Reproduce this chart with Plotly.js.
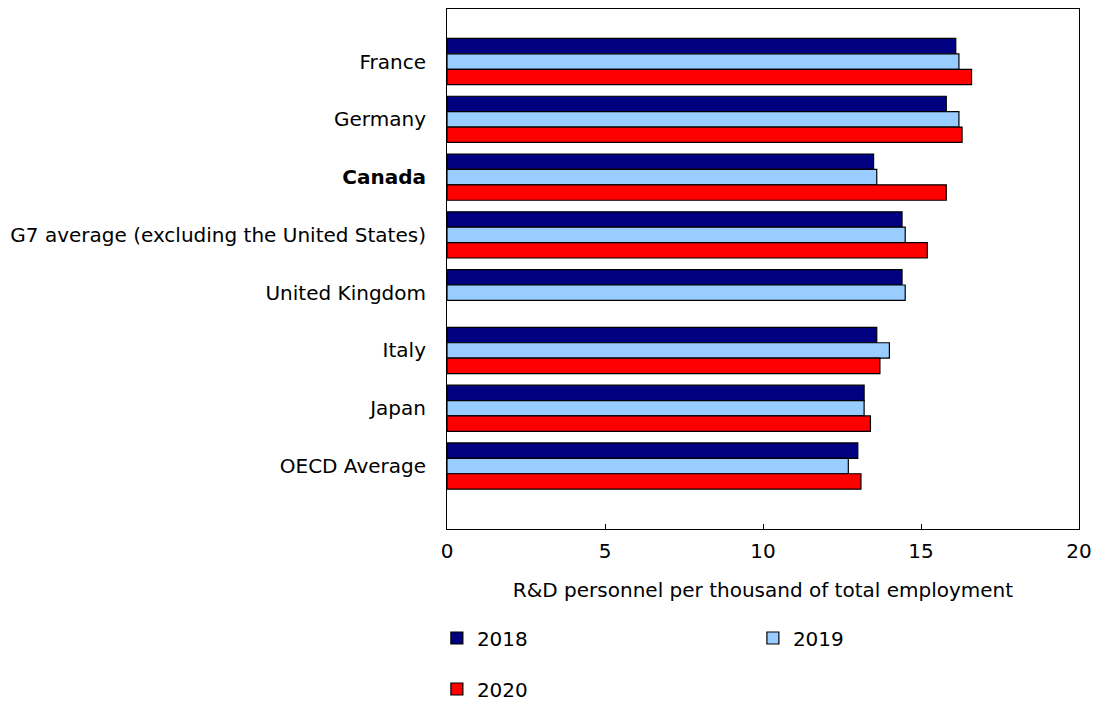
<!DOCTYPE html>
<html>
<head>
<meta charset="utf-8">
<script src="https://cdn.plot.ly/plotly-3.0.1.min.js"></script>
<style>html,body{margin:0;padding:0;background:#fff;}#chart{width:1093px;height:701px;}</style>
</head>
<body>
<div id="chart"></div>
<script>
const categories = ["France", "Germany", "<b>Canada</b>", "G7 average (excluding the United States)", "United Kingdom", "Italy", "Japan", "OECD Average"];
const values2018 = [16.1, 15.8, 13.5, 14.4, 14.4, 13.6, 13.2, 13.0];
const values2019 = [16.2, 16.2, 13.6, 14.5, 14.5, 14.0, 13.2, 12.7];
const values2020 = [16.6, 16.3, 15.8, 15.2, null, 13.7, 13.4, 13.1];
const seriesNames = ["2018", "2019", "2020"];
const xTicks = [0, 5, 10, 15, 20];

const colors = ["#000080", "#99ccff", "#ff0000"];
const legends = ["legend", "legend2", "legend3"];
const allValues = [values2018, values2019, values2020];

const data = allValues.map((v, i) => ({
  type: "bar",
  orientation: "h",
  name: seriesNames[i],
  y: categories,
  x: v,
  legend: legends[i],
  marker: {color: colors[i], line: {color: "#000000", width: 1.2}},
  hovertemplate: "%{y}: %{x}<extra>" + seriesNames[i] + "</extra>"
}));

const font = {family: "DejaVu Sans, Verdana, sans-serif", size: 20, color: "#000000"};
const legendCommon = {font: font, bgcolor: "rgba(0,0,0,0)", yanchor: "middle", xanchor: "left", orientation: "h"};

const layout = {
  width: 1093,
  height: 701,
  margin: {l: 447, r: 14, t: 9, b: 172, autoexpand: false},
  paper_bgcolor: "#ffffff",
  plot_bgcolor: "#ffffff",
  font: font,
  barmode: "group",
  bargap: 0.2,
  bargroupgap: 0,
  xaxis: {
    range: [0, 20],
    tickvals: xTicks,
    ticktext: xTicks.map(String),
    ticks: "inside",
    ticklen: 5,
    tickcolor: "#000000",
    showgrid: false,
    zeroline: false,
    showline: true,
    mirror: true,
    linecolor: "#000000",
    linewidth: 1,
    tickfont: font,
    ticklabelstandoff: 4,
    title: {text: "R&D personnel per thousand of total employment", font: font, standoff: 20}
  },
  yaxis: {
    type: "category",
    range: [8.09, -0.91],
    ticks: "",
    showgrid: false,
    zeroline: false,
    showline: true,
    mirror: true,
    linecolor: "#000000",
    linewidth: 1,
    tickfont: font,
    ticklabelstandoff: 16
  },
  legend: Object.assign({x: -0.016, y: -0.2096}, legendCommon),
  legend2: Object.assign({x: 0.484, y: -0.2096}, legendCommon),
  legend3: Object.assign({x: -0.016, y: -0.3077}, legendCommon),
  showlegend: true
};

Plotly.newPlot("chart", data, layout, {displayModeBar: false, staticPlot: false});
</script>
</body>
</html>
